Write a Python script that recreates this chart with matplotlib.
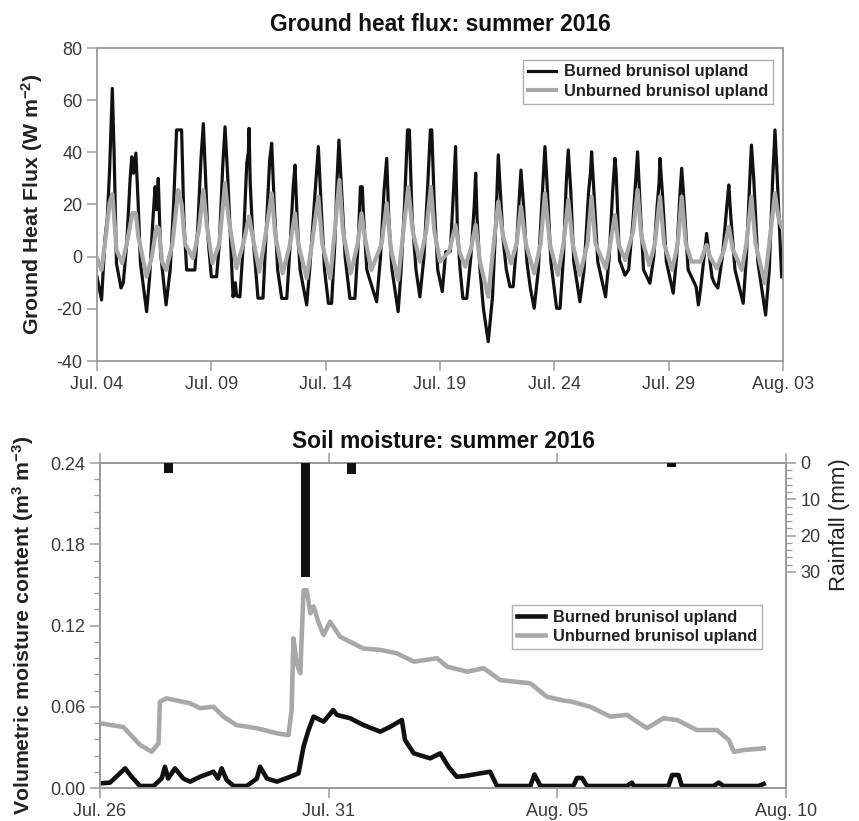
import matplotlib
matplotlib.use("Agg")
import matplotlib.pyplot as plt
from matplotlib.ticker import MultipleLocator, FixedLocator

plt.rcParams['font.family'] = ['Liberation Sans', 'DejaVu Sans']
plt.rcParams['mathtext.default'] = 'regular'
plt.rcParams['axes.unicode_minus'] = False

# ---------------- Top panel: ground heat flux (days since Jul. 04 00:00) ----------------
burned_gh_t = [0.0, 0.2, 0.35, 0.45, 0.55, 0.67, 0.75, 0.85, 1.05,
               1.15, 1.3, 1.45, 1.52, 1.6, 1.7, 1.8, 1.9, 2.17,
               2.3, 2.45, 2.54, 2.6, 2.68, 2.78, 3.02,
               3.2, 3.35, 3.48, 3.7, 3.8, 3.92, 4.28,
               4.4, 4.55, 4.65, 4.75, 4.85, 5.0, 5.23,
               5.35, 5.5, 5.6, 5.72, 5.82, 5.95, 6.05, 6.1, 6.25,
               6.4, 6.55, 6.62, 6.65, 6.7, 6.8, 7.04, 7.26,
               7.4, 7.55, 7.64, 7.75, 7.9, 8.08, 8.3,
               8.45, 8.58, 8.66, 8.75, 8.88, 9.17,
               9.3, 9.5, 9.68, 9.8, 9.95, 10.12, 10.26,
               10.4, 10.5, 10.58, 10.7, 10.85, 11.06, 11.28,
               11.42, 11.52, 11.6, 11.66, 11.8, 11.9, 12.23,
               12.4, 12.55, 12.67, 12.76, 12.9, 13.17,
               13.3, 13.45, 13.58, 13.66, 13.78, 13.95, 14.12,
               14.3, 14.45, 14.58, 14.64, 14.75, 14.9, 15.1,
               15.25, 15.45, 15.6, 15.68, 15.76, 15.88, 16.0, 16.17,
               16.35, 16.5, 16.56, 16.62, 16.75, 16.9, 17.11,
               17.3, 17.45, 17.55, 17.62, 17.75, 17.9, 18.06, 18.2,
               18.35, 18.54, 18.65, 18.8, 18.95, 19.12,
               19.3, 19.45, 19.59, 19.7, 19.85, 20.1, 20.25,
               20.4, 20.52, 20.61, 20.72, 20.85, 21.12,
               21.3, 21.5, 21.58, 21.63, 21.75, 21.9, 22.24,
               22.4, 22.55, 22.65, 22.7, 22.85, 23.09, 23.25,
               23.45, 23.64, 23.75, 23.9, 24.18,
               24.35, 24.5, 24.58, 24.62, 24.72, 24.9, 25.2,
               25.35, 25.5, 25.57, 25.68, 25.85, 26.2, 26.3, 26.4,
               26.55, 26.66, 26.75, 26.9, 27.0, 27.15,
               27.35, 27.55, 27.63, 27.72, 27.9, 28.26,
               28.4, 28.55, 28.62, 28.72, 28.9, 29.24,
               29.4, 29.55, 29.65, 29.75, 29.85, 29.94]
burned_gh_v = [-7.7, -16.6, 7, 15, 33, 64.5, 39, -2.5, -12,
               -10, 5, 30, 38.3, 32, 39.7, 20.5, -2.5, -21.1,
               -8, 15, 26.8, 18, 30, 1.4, -18.5,
               -5, 20, 48.6, 48.6, 14, -5.1, -5.1,
               10, 38, 51, 30, 7.6, -7.7, -7.7,
               5, 35, 49.8, 30, 10.2, -15.4, -10, -15, -15.4,
               5, 35.9, 40, 49.2, 28.2, 10, -15.9, -15.9,
               10, 37, 43.5, 20, -5, -16, -16,
               5, 26.8, 35.1, 15, -5, -18.5,
               -5, 20, 42.2, 20, -5, -17.9, -17.9,
               5, 30, 44.7, 25, 0, -16, -16,
               5, 26.8, 26.8, 15, -5, -8, -17.3,
               0, 25, 37.7, 15, -5, -21.1,
               -5, 20, 48.6, 48.6, 15, -5, -15.4,
               0, 25, 48.6, 48.6, 20, -5, -13.4,
               1.9, 1.9, 26.8, 42.2, 10.2, -5, -16, -16,
               0, 20, 32, 15, -5, -20, -32.6,
               -15, 15, 39, 28.2, 7.6, -5, -11.5, -11.5,
               5, 33.2, 20, -2, -12, -19.8,
               -5, 20, 42.2, 25, -2, -19.8, -19.8,
               0, 28, 40.9, 25, -2, -17.3,
               -5, 25, 32, 40.2, 22, -2, -15.4,
               0, 25, 37.7, 32.7, -1.3, -7.1, -5,
               15, 40.2, 20, -5, -10.2,
               0, 20, 28.2, 37.7, 25, -2, -14,
               0, 25, 33.9, 20, -5, -11.5, -18.5, -12,
               0, 8.9, 2, -8, -10.2, -12,
               0, 20, 27.5, 15, -5, -17.9,
               0, 30, 42.8, 30, -2, -22.4,
               -5, 30, 48.6, 30, 10, -7.7]

unburned_gh_t = [0.0, 0.2, 0.35, 0.55, 0.67, 0.75, 0.85, 1.1,
                 1.3, 1.55, 1.7, 1.8, 2.17,
                 2.4, 2.6, 2.7, 2.85, 3.02,
                 3.3, 3.55, 3.7, 3.85, 4.2,
                 4.45, 4.65, 4.8, 5.05,
                 5.35, 5.6, 5.75, 6.1,
                 6.4, 6.65, 6.8, 7.1,
                 7.4, 7.64, 7.8, 8.12,
                 8.45, 8.66, 8.8, 9.17,
                 9.4, 9.68, 9.85, 10.2,
                 10.4, 10.6, 10.75, 11.1,
                 11.4, 11.57, 11.7, 12.0,
                 12.45, 12.67, 12.85, 13.17,
                 13.4, 13.61, 13.8, 14.12,
                 14.4, 14.6, 14.75, 15.0,
                 15.4, 15.68, 15.85, 16.1,
                 16.35, 16.56, 16.75, 17.11,
                 17.35, 17.55, 17.75, 18.1,
                 18.35, 18.54, 18.75, 19.12,
                 19.4, 19.59, 19.8, 20.15,
                 20.4, 20.61, 20.8, 21.12,
                 21.45, 21.63, 21.8, 22.25,
                 22.45, 22.65, 22.8, 23.1,
                 23.45, 23.64, 23.8, 24.15,
                 24.4, 24.62, 24.8, 25.15,
                 25.4, 25.57, 25.75, 26.0, 26.4,
                 26.55, 26.66, 26.8, 27.1,
                 27.4, 27.63, 27.8, 28.2,
                 28.4, 28.62, 28.8, 29.2,
                 29.4, 29.65, 29.8, 29.94]
unburned_gh_v = [-0.6, -5.1, 5.2, 20.5, 24, 15, 2.6, -2.5,
                 5, 16.7, 16.7, 8, -7.7,
                 0, 11.5, 11, -2, -5.1,
                 5, 25.6, 20, 5, -0.6,
                 10, 25.6, 12, -2.5,
                 5, 28.2, 15, -4.4,
                 5, 15.4, 8, -5.8,
                 10, 24.3, 8, -6.4,
                 5, 16.6, 5, -8.3,
                 5, 23, 5, -8.3,
                 10, 29.4, 10, -6.4,
                 5, 16.6, 8, -5.1,
                 5, 20.5, 3, -9,
                 10, 26.8, 10, -1.9,
                 10, 26.8, 10, -1.9,
                 2, 12.1, 2, -3.8,
                 3, 12.1, -2, -15.4,
                 5, 21.1, 8, -2.6,
                 5, 19.2, 5, -6.4,
                 5, 24.3, 5, -7,
                 5, 21.7, 5, -7,
                 5, 23, 5, -4.5,
                 5, 16, 5, -1.3,
                 10, 25.6, 8, -3.2,
                 5, 23, 5, -5.1,
                 5, 23, 5, -1.9, -1.9,
                 2, 4.5, 0, -4.5,
                 2, 11.5, 3, -5.1,
                 5, 23, 5, -10.2,
                 5, 24.3, 15, 11.5]

top_xticks = [0, 5, 10, 15, 20, 25, 30]
top_xlabels = ["Jul. 04", "Jul. 09", "Jul. 14", "Jul. 19", "Jul. 24", "Jul. 29", "Aug. 03"]

# ---------------- Bottom panel: soil moisture (days since Jul. 26 00:00) ----------------
unburned_sm_t = [0.0, 0.51, 0.875, 1.13, 1.28, 1.31, 1.46, 1.97, 2.19, 2.48, 2.70, 2.98,
                 3.43, 3.87, 4.12, 4.19, 4.23, 4.30, 4.38, 4.45, 4.52, 4.60, 4.67, 4.78,
                 4.89, 5.03, 5.25, 5.76, 6.13, 6.49, 6.86, 7.37, 7.59, 8.03, 8.39, 8.75,
                 9.41, 9.77, 10.14, 10.28, 10.72, 11.16, 11.52, 11.96, 12.32, 12.62,
                 13.05, 13.49, 13.75, 13.86, 14.07, 14.51]
unburned_sm_v = [0.0478, 0.045, 0.0318, 0.0268, 0.033, 0.0637, 0.0662, 0.0625, 0.0589, 0.060, 0.0527, 0.0465,
                 0.0441, 0.0404, 0.039, 0.0576, 0.1105, 0.092, 0.0847, 0.146, 0.146, 0.129, 0.134, 0.122,
                 0.113, 0.1228, 0.1117, 0.103, 0.102, 0.0995, 0.0933, 0.0958, 0.0896, 0.0859, 0.0884, 0.0797,
                 0.0773, 0.0674, 0.0645, 0.0640, 0.060, 0.0527, 0.054, 0.0441, 0.0515, 0.0502,
                 0.0428, 0.0428, 0.0354, 0.0268, 0.028, 0.0293]

burned_sm_t = [0.0, 0.22, 0.55, 0.69, 0.875, 1.17, 1.35, 1.42, 1.49, 1.64, 1.82, 1.97, 2.19,
               2.48, 2.58, 2.66, 2.77, 2.92, 3.21, 3.43, 3.50, 3.65, 3.87, 4.16, 4.34, 4.45,
               4.56, 4.67, 4.89, 5.10, 5.18, 5.47, 5.76, 6.13, 6.35, 6.60, 6.67, 6.86, 7.22,
               7.44, 7.62, 7.80, 7.95, 8.31, 8.53, 8.68, 9.41, 9.50, 9.63, 10.35, 10.43, 10.54,
               10.65, 11.52, 11.63, 11.67, 12.43, 12.51, 12.65, 12.72, 13.42, 13.53, 13.63,
               14.40, 14.51]
burned_sm_v = [0.0034, 0.004, 0.0145, 0.0083, 0.0015, 0.0015, 0.0071, 0.0157, 0.007, 0.0145, 0.007, 0.0047, 0.0083,
               0.012, 0.007, 0.0145, 0.0059, 0.0015, 0.0015, 0.007, 0.0157, 0.007, 0.0047, 0.0083, 0.0108, 0.0305,
               0.0428, 0.0527, 0.049, 0.0576, 0.054, 0.0515, 0.0465, 0.0416, 0.0453, 0.0502, 0.0354, 0.0256, 0.0219,
               0.0256, 0.0157, 0.0083, 0.0087, 0.0108, 0.012, 0.0015, 0.0015, 0.010, 0.0015, 0.0015, 0.0074, 0.0074,
               0.0015, 0.0015, 0.004, 0.0015, 0.0015, 0.0096, 0.0096, 0.0015, 0.0015, 0.004, 0.0015,
               0.0015, 0.003]

rain_t = [1.5, 4.5, 5.5, 12.5]
rain_mm = [2.8, 31.4, 3.0, 1.0]

bot_xticks = [0, 5, 10, 15]
bot_xlabels = ["Jul. 26", "Jul. 31", "Aug. 05", "Aug. 10"]

# ---------------- Styling ----------------
SPINE = "#9a9a9a"
TICKC = "#3a3a3a"
BLACK = "#111111"
GREY = "#a8a8a8"
LABC = "#222222"

fig = plt.figure(figsize=(8.59, 8.21), dpi=100)

def style_axes(ax):
    for s in ax.spines.values():
        s.set_color(SPINE)
        s.set_linewidth(1.3)
    ax.tick_params(axis="both", which="both", colors=SPINE, labelcolor=TICKC,
                   labelsize=13, direction="out")
    ax.tick_params(which="major", length=7, width=1.1)
    ax.tick_params(which="minor", length=4, width=0.9)

def style_legend(leg):
    leg.get_frame().set_linewidth(1.0)
    for t in leg.get_texts():
        t.set_fontweight("bold")
        t.set_color(LABC)

# Top panel
ax1 = fig.add_axes([97/859, 1-361/821, (783-97)/859, (361-48)/821])
ax1.plot(burned_gh_t, burned_gh_v, color=BLACK, lw=2.3, label="Burned brunisol upland", zorder=2)
ax1.plot(unburned_gh_t, unburned_gh_v, color=GREY, lw=3.0, label="Unburned brunisol upland", zorder=3)
ax1.set_xlim(0, 30)
ax1.set_ylim(-40, 80)
ax1.set_yticks([-40, -20, 0, 20, 40, 60, 80])
ax1.set_xticks(top_xticks)
ax1.set_xticklabels(top_xlabels)
style_axes(ax1)
ax1.set_ylabel("Ground Heat Flux (W m$^{-2}$)", fontsize=15.3, fontweight="bold", color=LABC, labelpad=8)
ax1.set_title("Ground heat flux: summer 2016", fontsize=16.4, fontweight="bold", color="#111111", pad=12)
leg1 = ax1.legend(loc="upper right", bbox_to_anchor=(0.986, 0.963), frameon=True, fancybox=False,
                  edgecolor=SPINE, fontsize=11.8, handlelength=1.7, borderpad=0.3, labelspacing=0.25,
                  handletextpad=0.5, borderaxespad=0.0)
style_legend(leg1)

# Bottom panel
ax2 = fig.add_axes([100/859, 1-788/821, (786-100)/859, (788-463)/821])
ax2.plot(burned_sm_t, burned_sm_v, color=BLACK, lw=3.3, label="Burned brunisol upland", zorder=3)
ax2.plot(unburned_sm_t, unburned_sm_v, color=GREY, lw=3.3, label="Unburned brunisol upland", zorder=2)
ax2.set_xlim(0, 15)
ax2.set_ylim(0, 0.24)
ax2.set_yticks([0.0, 0.06, 0.12, 0.18, 0.24])
ax2.set_yticklabels(["0.00", "0.06", "0.12", "0.18", "0.24"])
ax2.yaxis.set_minor_locator(MultipleLocator(0.012))
ax2.set_xticks(bot_xticks)
ax2.set_xticklabels(bot_xlabels)
style_axes(ax2)
ax2.tick_params(axis="x", which="major", top=True)
ax2.set_ylabel("Volumetric moisture content (m$^{3}$ m$^{-3}$)", fontsize=15.3, fontweight="bold",
               color=LABC, labelpad=10)
ax2.set_title("Soil moisture: summer 2016", fontsize=16.4, fontweight="bold", color="#111111", pad=11)
leg2 = ax2.legend(loc="upper right", bbox_to_anchor=(0.965, 0.563), frameon=True, fancybox=False,
                  edgecolor=SPINE, fontsize=11.8, handlelength=1.7, borderpad=0.3, labelspacing=0.25,
                  handletextpad=0.5, borderaxespad=0.0)
style_legend(leg2)

# Rainfall (inverted, right axis)
ax3 = ax2.twinx()
ax3.bar(rain_t, rain_mm, width=0.2, color=BLACK, zorder=4)
ax3.set_ylim(89.5, 0)
ax3.yaxis.set_major_locator(FixedLocator([0, 10, 20, 30]))
ax3.yaxis.set_minor_locator(FixedLocator([2, 4, 6, 8, 12, 14, 16, 18, 22, 24, 26, 28]))
style_axes(ax3)
ax3.set_ylabel("Rainfall (mm)", fontsize=16, color=LABC)
ax3.yaxis.set_label_coords(1.063, 0.81)

fig.savefig("out.png", dpi=100)
